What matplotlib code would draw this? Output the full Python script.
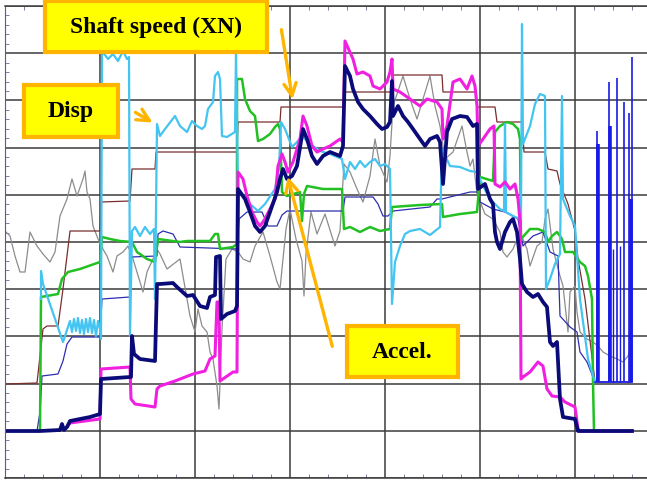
import numpy as np
import matplotlib.pyplot as plt
from matplotlib.patches import Rectangle

# trace samples: (time, level) with level counted downwards from the top of the screen
shaft_speed = [(5, 385), (37, 384), (43, 330), (47, 327), (58, 327), (63, 290), (70, 232),
               (100, 232), (101, 203), (130, 202), (132, 170), (155, 170), (156, 153),
               (237, 153), (238, 123), (280, 123), (281, 108), (343, 108), (344, 93),
               (392, 93), (393, 76), (442, 76), (443, 93), (476, 93), (477, 108), (495, 108),
               (497, 123), (522, 123), (524, 153), (545, 153), (548, 170), (557, 172),
               (560, 185), (568, 205), (575, 232), (578, 260), (585, 300), (595, 383)]

disp = [(41, 300), (41, 272), (43, 285), (63, 343), (68, 328), (70, 322), (72, 333), (74, 320),
        (76, 332), (78, 319), (80, 334), (82, 321), (84, 335), (86, 320), (88, 333), (90, 319),
        (92, 334), (94, 321), (96, 337), (98, 322), (100, 330),
        (101, 340), (102, 52), (108, 60), (113, 55), (118, 62), (123, 52), (127, 60), (129, 58),
        (130, 337), (132, 232), (135, 228), (140, 237), (145, 228), (150, 235), (154, 230),
        (155, 300), (157, 125), (160, 137), (165, 130), (175, 117), (180, 127), (187, 133),
        (192, 122), (197, 127), (202, 130), (205, 127), (208, 110), (213, 103), (215, 77),
        (218, 73), (220, 80), (222, 137), (227, 138), (235, 133), (236, 53), (238, 190),
        (250, 205), (258, 212), (265, 205), (275, 190), (279, 170), (281, 123), (285, 130),
        (292, 148), (297, 143), (302, 137), (310, 145), (320, 152), (330, 155), (342, 160),
        (345, 180), (350, 163), (355, 170), (360, 162), (365, 168), (370, 163), (375, 160),
        (380, 167), (385, 165), (390, 170), (392, 305), (395, 263), (400, 247), (405, 235),
        (410, 232), (420, 230), (430, 236), (440, 228), (442, 150), (450, 167), (460, 168),
        (470, 172), (477, 173), (483, 187), (490, 200), (500, 210), (504, 212), (505, 125),
        (506, 213), (513, 217), (520, 220), (521, 220), (522, 25), (523, 145), (530, 127),
        (535, 105), (540, 95), (545, 97), (546, 290), (550, 280), (555, 265), (560, 255),
        (562, 97), (563, 200), (565, 205), (570, 217), (575, 227), (580, 300), (588, 360),
        (595, 383)]

green = [(5, 432), (40, 432), (41, 298), (58, 295), (62, 280), (68, 273), (80, 270), (100, 263),
         (102, 238), (110, 240), (120, 242), (132, 243), (137, 253), (147, 260), (155, 263),
         (158, 240), (180, 243), (187, 242), (210, 242), (215, 235), (218, 235), (220, 250),
         (233, 248), (237, 245), (237, 80), (242, 80), (245, 100), (250, 112), (255, 117),
         (258, 142), (263, 140), (270, 135), (275, 128), (278, 125), (280, 130), (282, 193),
         (287, 197), (300, 193), (302, 222), (304, 195), (307, 187), (323, 190), (342, 190),
         (344, 230), (350, 228), (360, 233), (370, 228), (380, 232), (390, 230), (392, 208),
         (420, 206), (442, 205), (443, 218), (460, 215), (477, 213), (480, 178), (493, 182),
         (495, 133), (500, 127), (507, 123), (513, 125), (518, 130), (520, 140), (521, 240),
         (530, 230), (538, 230), (545, 233), (548, 243), (552, 237), (557, 233), (562, 240),
         (565, 253), (573, 253), (580, 263), (585, 267), (588, 277), (592, 300), (593, 383),
         (594, 432), (632, 432)]

accel = [(67, 428), (70, 424), (85, 422), (100, 420), (101, 370), (130, 368), (131, 400),
         (135, 405), (155, 408), (157, 390), (160, 387), (175, 382), (193, 375), (205, 372),
         (210, 360), (215, 357), (217, 303), (219, 303), (220, 382), (233, 373), (237, 373),
         (238, 173), (243, 180), (247, 197), (252, 213), (257, 223), (260, 227), (265, 220),
         (270, 210), (275, 200), (278, 167), (282, 155), (285, 163), (288, 173), (293, 163),
         (300, 140), (303, 117), (307, 127), (312, 147), (317, 153), (323, 150), (330, 147),
         (340, 140), (343, 143), (345, 42), (353, 60), (357, 75), (363, 73), (370, 77),
         (373, 87), (380, 90), (387, 83), (390, 73), (392, 60), (393, 90), (400, 93), (410, 100),
         (420, 107), (427, 100), (437, 103), (442, 110), (443, 140), (447, 127), (453, 83),
         (460, 80), (467, 90), (472, 77), (475, 87), (477, 107), (478, 147), (483, 140),
         (490, 130), (494, 127), (495, 185), (500, 188), (505, 183), (510, 190), (515, 185),
         (518, 200), (520, 222), (521, 380), (523, 378), (530, 373), (538, 363), (543, 367),
         (547, 390), (552, 397), (560, 398), (565, 403), (575, 408), (578, 430), (580, 432),
         (632, 432)]

accel_2 = [(5, 432), (40, 432), (60, 431), (62, 425), (64, 431), (67, 428), (70, 422), (80, 420),
           (90, 418), (100, 415), (101, 380), (130, 378), (131, 378), (132, 337), (134, 355),
           (140, 360), (155, 362), (157, 285), (160, 285), (173, 284), (177, 288), (187, 297),
           (193, 296), (200, 307), (207, 309), (210, 298), (215, 296), (216, 258), (220, 257),
           (221, 320), (227, 315), (235, 312), (237, 307), (238, 190), (245, 200), (250, 213),
           (255, 227), (260, 233), (265, 227), (270, 213), (277, 193), (280, 180), (283, 170),
           (287, 180), (292, 177), (297, 167), (303, 130), (307, 140), (312, 157), (317, 165),
           (323, 157), (330, 153), (340, 157), (343, 147), (345, 67), (350, 77), (353, 90),
           (358, 103), (363, 110), (370, 117), (377, 125), (382, 130), (387, 128), (390, 123),
           (392, 82), (393, 117), (398, 107), (403, 117), (408, 123), (413, 130), (420, 140),
           (425, 147), (430, 140), (437, 137), (440, 143), (443, 185), (447, 133), (452, 120),
           (460, 117), (467, 118), (473, 127), (477, 125), (478, 190), (485, 185), (490, 200),
           (493, 205), (495, 233), (497, 243), (500, 250), (505, 233), (510, 223), (513, 220),
           (517, 233), (520, 260), (522, 285), (527, 293), (533, 298), (538, 295), (543, 303),
           (547, 308), (550, 343), (553, 347), (557, 343), (560, 400), (563, 418), (575, 420),
           (578, 432), (632, 432)]

temp = [(5, 232), (10, 237), (15, 257), (20, 273), (25, 273), (30, 233), (37, 247), (43, 255),
        (50, 263), (55, 253), (60, 217), (67, 200), (72, 180), (77, 197), (83, 180), (85, 172),
        (87, 193), (90, 200), (93, 227), (100, 245), (107, 257), (113, 273), (117, 257),
        (123, 253), (128, 247), (133, 260), (140, 283), (143, 293), (147, 273), (153, 260),
        (157, 250), (160, 255), (167, 270), (180, 260), (190, 317), (195, 333), (198, 310),
        (202, 327), (207, 333), (210, 353), (213, 360), (217, 387), (219, 410), (222, 330),
        (226, 260), (232, 250), (238, 253), (243, 260), (250, 263), (255, 247), (263, 233),
        (270, 257), (277, 283), (280, 290), (286, 230), (290, 210), (296, 240), (302, 262),
        (304, 297), (306, 255), (311, 213), (317, 235), (325, 215), (335, 247), (340, 232),
        (344, 165), (350, 173), (357, 190), (363, 203), (370, 177), (375, 140), (380, 167),
        (387, 183), (390, 157), (393, 107), (403, 77), (410, 100), (417, 120), (423, 100),
        (430, 77), (435, 107), (440, 127), (445, 160), (453, 153), (462, 127), (467, 153),
        (470, 167), (473, 160), (477, 195), (485, 215), (493, 220), (500, 233), (503, 253),
        (507, 258), (513, 250), (520, 233), (527, 250), (530, 267), (537, 247), (542, 243),
        (545, 220), (548, 210), (553, 250), (560, 277), (563, 287), (568, 333), (570, 293),
        (575, 287), (577, 313), (580, 333), (587, 340), (593, 343), (598, 347), (603, 353),
        (610, 357), (617, 360), (623, 363), (628, 357), (632, 347)]

pressure = [(37, 432), (40, 413), (42, 377), (58, 375), (63, 362), (67, 345), (72, 338),
            (100, 338), (102, 300), (130, 298), (131, 258), (157, 257), (158, 235), (163, 232),
            (173, 235), (180, 248), (237, 250), (239, 220), (247, 213), (262, 213), (268, 227),
            (277, 227), (282, 216), (287, 212), (343, 212), (345, 198), (373, 198), (378, 205),
            (383, 217), (388, 217), (393, 212), (430, 208), (437, 200), (442, 200), (470, 193),
            (478, 193), (480, 203), (493, 210), (505, 213), (518, 220), (523, 247), (533, 237),
            (543, 233), (550, 253), (558, 257), (560, 317), (570, 328), (577, 333), (580, 353),
            (587, 363), (595, 383), (632, 383)]

# rundown bursts after shutdown
burst_t = [597, 598, 609, 610, 613, 617, 620, 624, 629, 631, 632]
burst_top = [132, 145, 83, 127, 250, 79, 247, 103, 114, 200, 58]
burst_lw = [1.2, 2.6, 1.2, 2.6, 1.0, 1.2, 1.0, 1.2, 1.2, 2.6, 1.2]
burst_base = 383

plt.rcParams['font.family'] = ['Liberation Serif', 'DejaVu Serif']

fig = plt.figure(figsize=(6.47, 4.81), dpi=100)
ax = fig.add_axes([5 / 647, 2 / 481, 642 / 647, 472 / 481])
ax.set_xlim(5, 647)
ax.set_ylim(479, 7)

ax.set_xticks(np.arange(5, 647, 95))
ax.set_yticks(np.linspace(7, 479, 11))
ax.set_xticks(np.arange(5, 647, 19), minor=True)
ax.set_yticks(np.linspace(7, 479, 51), minor=True)
ax.grid(True, which='major', color='#3c3c3c', lw=1.1)
ax.tick_params(which='both', direction='in', labelleft=False, labelbottom=False,
               top=True, color='#6a6a8a', width=0.6)
ax.tick_params(which='major', length=0)
ax.tick_params(which='minor', length=3)
for side in ['top', 'bottom']:
    ax.spines[side].set_color('#3c3c3c')
    ax.spines[side].set_linewidth(1.1)
ax.spines['left'].set_color('#5a5a9a')
ax.spines['left'].set_linewidth(0.8)
ax.spines['right'].set_visible(False)


def trace(points, color, lw):
    t, v = zip(*points)
    ax.plot(t, v, color=color, lw=lw, solid_joinstyle='round')


trace(temp, '#8c8c8c', 0.9)
trace(shaft_speed, '#7a2e2e', 0.9)
trace(pressure, '#2e2eb0', 0.9)
trace(green, '#22c022', 1.8)
trace(disp, '#44c4f0', 1.6)
trace(accel, '#f020e0', 2.2)
trace(accel_2, '#0a0a78', 2.7)

ax.plot([595, 632], [burst_base, burst_base], color='#2020e8', lw=1.2)
ax.vlines(burst_t, burst_top, burst_base, colors='#1a1ae6', lw=burst_lw)

# labels and pointers
orange = '#ffb400'
boxes = [('Shaft speed (XN)', 45, 2, 222, 51),
         ('Disp', 24, 86, 94, 52),
         ('Accel.', 347, 327, 111, 51)]
for text, x0, y0, w, h in boxes:
    ax.add_patch(Rectangle((x0, y0), w, h, facecolor='#ffff00', edgecolor=orange,
                           lw=3, zorder=5, clip_on=False))
    ax.text(x0 + w / 2, y0 + h / 2, text, ha='center', va='center', fontsize=17,
            fontweight='bold', zorder=6)

arrow = dict(arrowstyle='->', color=orange, lw=2.4, mutation_scale=22)
ax.annotate('', xy=(293, 103), xytext=(281, 28), arrowprops=arrow, zorder=6)
ax.annotate('', xy=(155, 125), xytext=(133, 112), arrowprops=arrow, zorder=6)
ax.annotate('', xy=(287, 175), xytext=(333, 350), arrowprops=arrow, zorder=6)

fig.savefig('out.png', dpi=100)
